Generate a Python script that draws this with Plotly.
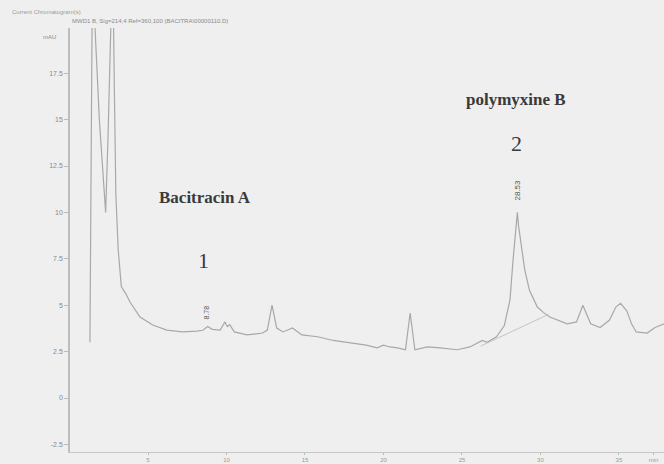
import plotly.graph_objects as go

# Retention time (min) and absorbance (mAU)
time_min = [1.30, 1.45, 1.52, 1.62, 1.90, 2.20, 2.30, 2.45, 2.60, 2.75, 2.85, 2.95, 3.10, 3.30,
            3.60, 3.85, 4.49, 5.30, 6.20, 7.20, 8.10, 8.50, 8.80, 9.10, 9.60, 9.90, 10.05, 10.20,
            10.50, 11.30, 12.30, 12.60, 12.90, 13.20, 13.60, 14.20, 14.80, 15.80, 16.80, 17.90,
            18.90, 19.60, 20.00, 20.40, 20.90, 21.40, 21.70, 22.00, 22.80, 23.60, 24.70, 25.50,
            26.30, 26.60, 27.20, 27.70, 28.06, 28.25, 28.45, 28.53, 28.60, 28.80, 29.00, 29.30,
            29.80, 30.20, 30.60, 31.70, 32.30, 32.70, 33.20, 33.80, 34.40, 34.80, 35.10, 35.50,
            35.80, 36.10, 36.80, 37.30, 37.90]
absorbance = [3.0, 22.0, 24.0, 20.0, 15.0, 11.5, 10.0, 14.0, 22.0, 24.0, 17.0, 11.0, 8.0, 6.0,
              5.6, 5.17, 4.36, 3.93, 3.66, 3.56, 3.60, 3.65, 3.85, 3.70, 3.66, 4.10, 3.85, 3.95,
              3.56, 3.40, 3.50, 3.66, 5.00, 3.77, 3.56, 3.77, 3.40, 3.30, 3.10, 2.96,
              2.85, 2.70, 2.85, 2.75, 2.70, 2.60, 4.58, 2.60, 2.75, 2.70, 2.60, 2.75,
              3.10, 3.00, 3.30, 3.90, 5.30, 7.40, 9.60, 10.00, 9.30, 8.00, 6.90, 5.80,
              4.90, 4.60, 4.36, 4.00, 4.10, 5.00, 4.00, 3.80, 4.20, 4.90, 5.10, 4.70,
              4.00, 3.56, 3.50, 3.80, 4.00]

# integration baseline under peak 2
base_t = [26.2, 30.5]
base_y = [2.8, 4.5]

y_ticks = [-2.5, 0, 2.5, 5, 7.5, 10, 12.5, 15, 17.5]
y_labels = ["-2.5", "0", "2.5", "5", "7.5", "10", "12.5", "15", "17.5"]
x_ticks = [5, 10, 15, 20, 25, 30, 35, 37.2]
x_labels = ["5", "10", "15", "20", "25", "30", "35", "min"]

W, H = 664, 464
L, R, T, B = 70, 0, 28, 12
PW, PH = W - L - R, H - T - B


def px(x):
    return (x - L) / PW


def py(y):
    return (H - B - y) / PH


trace_col = "#a8a8a8"
fig = go.Figure()
fig.add_trace(go.Scatter(x=time_min, y=absorbance, mode="lines",
                         line=dict(color=trace_col, width=1.2), showlegend=False))
fig.add_trace(go.Scatter(x=base_t, y=base_y, mode="lines",
                         line=dict(color="#c4c4c4", width=1), showlegend=False))

serif = "Liberation Serif, DejaVu Serif, serif"
ann = [
    dict(x=8.65, y=10.8, text="<b>Bacitracin A</b>", font=dict(size=17, color="#3a3a3a", family=serif)),
    dict(x=8.55, y=7.4, text="1", font=dict(size=22, color="#3a3a3a", family=serif)),
    dict(x=28.45, y=16.1, text="<b>polymyxine B</b>", font=dict(size=17, color="#3a3a3a", family=serif)),
    dict(x=28.5, y=13.7, text="2", font=dict(size=22, color="#3a3a3a", family=serif)),
    dict(x=8.75, y=4.6, text="8.78", textangle=-90, font=dict(size=7, color="#555555", family="Arial")),
    dict(x=28.53, y=11.2, text="28.53", textangle=-90, font=dict(size=8, color="#555555", family="Arial")),
]
annotations = [dict(a, xref="x", yref="y", showarrow=False) for a in ann]
annotations += [
    dict(x=px(10), y=py(12), xref="paper", yref="paper", xanchor="left", yanchor="middle",
         text="Current Chromatogram(s)", showarrow=False,
         font=dict(size=6, color="#9a9a9a", family="Arial")),
    dict(x=px(70), y=py(21), xref="paper", yref="paper", xanchor="left", yanchor="middle",
         text="MWD1 B, Sig=214,4 Ref=360,100 (BACITRA\\00000110.D)", showarrow=False,
         font=dict(size=6, color="#8a8a8a", family="Arial")),
    dict(x=px(58), y=py(37), xref="paper", yref="paper", xanchor="right", yanchor="middle",
         text="mAU", showarrow=False, font=dict(size=6, color="#8a8a8a", family="Arial")),
]

fig.update_layout(
    template="none",
    width=W, height=H,
    margin=dict(l=L, r=R, t=T, b=B, pad=0),
    paper_bgcolor="#efefef", plot_bgcolor="#efefef",
    annotations=annotations,
    xaxis=dict(range=[0.03, 37.87], tickvals=x_ticks, ticktext=x_labels, ticks="outside",
               ticklen=2, tickcolor="#bbbbbb", showgrid=False, zeroline=False, automargin=False,
               showline=True, linecolor="#c8c8c8", linewidth=1,
               tickfont=dict(size=6, color="#9a9a9a", family="Arial")),
    yaxis=dict(range=[(398 - (H - B)) / 18.56, (398 - T) / 18.56], tickvals=y_ticks,
               ticktext=y_labels, ticks="outside", automargin=False,
               ticklen=4, tickcolor="#b8b8b8", showgrid=False, zeroline=False,
               showline=True, linecolor="#bdbdbd", linewidth=1.5,
               tickfont=dict(size=7, color="#8a8a8a", family="Arial")),
)
fig.write_html("out.html", config={"displayModeBar": False},
               post_script="document.body.style.margin='0';document.body.style.background='#efefef';")
